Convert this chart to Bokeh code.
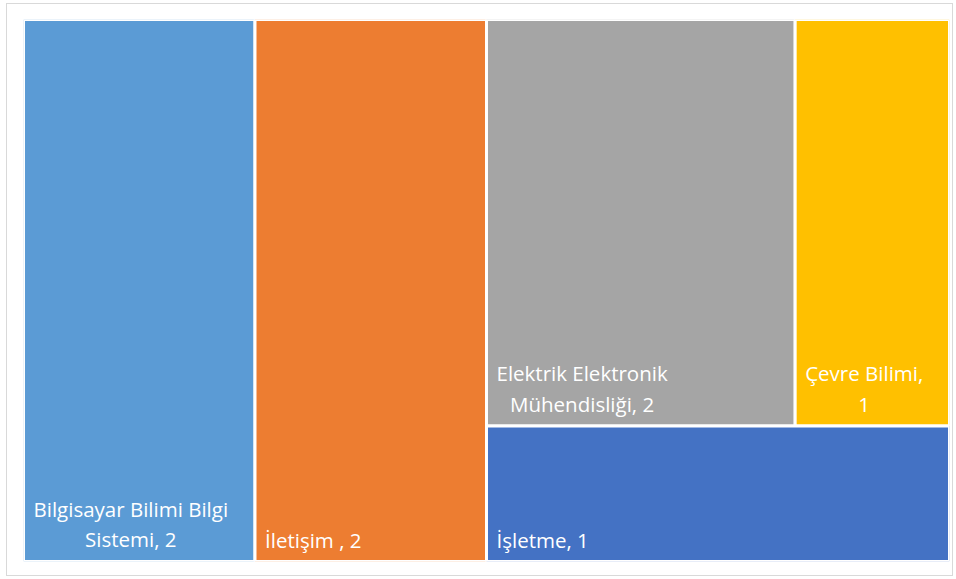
import textwrap
from bokeh.plotting import figure
from bokeh.models import ColumnDataSource, Range1d
from bokeh.core.properties import value
from bokeh.embed import file_html
from bokeh.resources import INLINE

# ---- data ----
categories = ["Bilgisayar Bilimi Bilgi Sistemi", "İletişim ", "Elektrik Elektronik Mühendisliği",
              "Çevre Bilimi", "İşletme"]
counts = [2, 2, 2, 1, 1]
colors = ["#5B9BD5", "#ED7D31", "#A5A5A5", "#FFC000", "#4472C4"]

# Excel-style treemap structure (columns, then rows, then columns)
tree = [0, 1, [[2, 3], 4]]

W, H = 926.0, 542.0


def weight(node):
    if isinstance(node, list):
        return sum(weight(n) for n in node)
    return counts[node]


rects = {}


def layout(node, x0, y0, w, h, horizontal):
    if not isinstance(node, list):
        rects[node] = (x0, y0, w, h)
        return
    total = weight(node)
    if horizontal:
        cx = x0
        for n in node:
            ww = w * weight(n) / total
            layout(n, cx, y0, ww, h, not horizontal)
            cx += ww
    else:
        cy = y0 + h  # from top down
        for n in node:
            hh = h * weight(n) / total
            cy -= hh
            layout(n, x0, cy, w, hh, not horizontal)


layout(tree, 0.0, 0.0, W, H, True)

n = len(categories)
left = [rects[i][0] for i in range(n)]
bottom = [rects[i][1] for i in range(n)]
right = [rects[i][0] + rects[i][2] for i in range(n)]
top = [rects[i][1] + rects[i][3] for i in range(n)]

CHAR_W = 9.0
labels = []
for i in range(n):
    lab = f"{categories[i]}, {counts[i]}"
    wrap_w = max(1, int((rects[i][2] - 20) / CHAR_W))
    labels.append("\n".join(textwrap.wrap(lab, wrap_w)))

src = ColumnDataSource(dict(left=left, right=right, top=top, bottom=bottom, color=colors,
                            lx=[l + 10 for l in left], ly=[b + 8 for b in bottom], label=labels))

p = figure(width=947, height=573, output_backend="svg", toolbar_location=None,
           x_range=Range1d(0, W), y_range=Range1d(0, H),
           min_border_left=16, min_border_right=5, min_border_top=15, min_border_bottom=16)
p.axis.visible = False
p.grid.visible = False
p.outline_line_color = None
p.styles = {"border": "1px solid #d9d9d9", "margin-left": "6px", "margin-top": "3px"}

p.quad(left="left", right="right", top="top", bottom="bottom", fill_color="color",
       line_color="white", line_width=3, source=src)
p.text(x="lx", y="ly", text="label", source=src, anchor="bottom_left", text_align="center",
       text_color="white", text_font=value("Open Sans"), text_font_size="20.5px", text_line_height=1.1)

open("out.html", "w").write(file_html(p, INLINE))
